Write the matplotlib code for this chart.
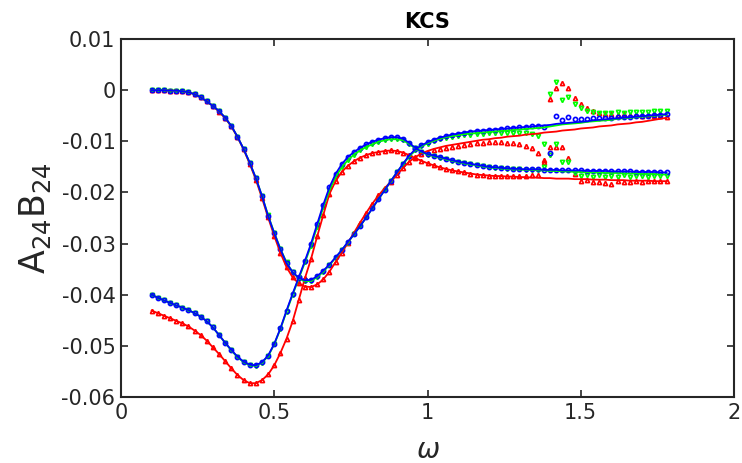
import numpy as np
import matplotlib
matplotlib.use("Agg")
import matplotlib.pyplot as plt

# frequency grid
omega = np.round(np.arange(0.10, 1.7801, 0.02), 2)

# ---- A24 lines ----
A24_blue = [0.0000, 0.0000, 0.0000, -0.0001, -0.0001, -0.0002, -0.0004, -0.0008, -0.0014, -0.0022,
            -0.0031, -0.0041, -0.0054, -0.0070, -0.0091, -0.0115, -0.0142, -0.0172, -0.0207, -0.0246,
            -0.0280, -0.0311, -0.0338, -0.0356, -0.0367, -0.0372, -0.0371, -0.0364, -0.0353, -0.0341,
            -0.0327, -0.0313, -0.0297, -0.0282, -0.0266, -0.0249, -0.0231, -0.0213, -0.0196, -0.0178,
            -0.0161, -0.0144, -0.0128, -0.0116, -0.0108, -0.0102, -0.0097, -0.0093, -0.0090, -0.0087,
            -0.0085, -0.0083, -0.0081, -0.0080, -0.0079, -0.0078, -0.0077, -0.0076, -0.0075, -0.0074,
            -0.0073, -0.0072, -0.0071, -0.0070, -0.0069, -0.0068, -0.0066, -0.0065, -0.0064, -0.0063,
            -0.0062, -0.0061, -0.0059, -0.0058, -0.0057, -0.0056, -0.0055, -0.0054, -0.0053, -0.0052,
            -0.0051, -0.0050, -0.0049, -0.0048, -0.0047]
A24_green = [0.0000, 0.0000, 0.0000, -0.0001, -0.0001, -0.0002, -0.0004, -0.0008, -0.0014, -0.0022,
             -0.0031, -0.0041, -0.0054, -0.0070, -0.0091, -0.0115, -0.0142, -0.0172, -0.0207, -0.0245,
             -0.0279, -0.0310, -0.0337, -0.0356, -0.0368, -0.0374, -0.0373, -0.0366, -0.0355, -0.0342,
             -0.0328, -0.0313, -0.0298, -0.0282, -0.0266, -0.0249, -0.0231, -0.0213, -0.0196, -0.0178,
             -0.0161, -0.0145, -0.0130, -0.0118, -0.0110, -0.0104, -0.0099, -0.0095, -0.0092, -0.0090,
             -0.0088, -0.0086, -0.0085, -0.0084, -0.0083, -0.0082, -0.0081, -0.0080, -0.0079, -0.0078,
             -0.0077, -0.0076, -0.0075, -0.0074, -0.0073, -0.0071, -0.0069, -0.0067, -0.0066, -0.0065,
             -0.0064, -0.0062, -0.0061, -0.0060, -0.0059, -0.0058, -0.0056, -0.0055, -0.0054, -0.0053,
             -0.0052, -0.0051, -0.0050, -0.0049, -0.0048]
A24_red = [0.0000, 0.0000, 0.0000, -0.0001, -0.0001, -0.0002, -0.0004, -0.0008, -0.0014, -0.0022,
           -0.0031, -0.0042, -0.0055, -0.0071, -0.0092, -0.0116, -0.0144, -0.0175, -0.0211, -0.0249,
           -0.0285, -0.0318, -0.0346, -0.0366, -0.0378, -0.0384, -0.0385, -0.0380, -0.0370, -0.0355,
           -0.0336, -0.0318, -0.0299, -0.0279, -0.0259, -0.0240, -0.0222, -0.0206, -0.0192, -0.0179,
           -0.0166, -0.0152, -0.0140, -0.0131, -0.0124, -0.0119, -0.0115, -0.0112, -0.0109, -0.0107,
           -0.0105, -0.0103, -0.0101, -0.0099, -0.0097, -0.0096, -0.0094, -0.0093, -0.0091, -0.0090,
           -0.0089, -0.0087, -0.0086, -0.0085, -0.0083, -0.0082, -0.0081, -0.0079, -0.0078, -0.0077,
           -0.0075, -0.0074, -0.0073, -0.0071, -0.0070, -0.0069, -0.0067, -0.0066, -0.0065, -0.0063,
           -0.0062, -0.0060, -0.0058, -0.0056, -0.0054]

# ---- B24 lines ----
B24_blue = [-0.0400, -0.0406, -0.0411, -0.0416, -0.0421, -0.0425, -0.0430, -0.0436, -0.0443, -0.0452,
            -0.0464, -0.0479, -0.0494, -0.0508, -0.0521, -0.0531, -0.0537, -0.0538, -0.0532, -0.0519,
            -0.0496, -0.0466, -0.0431, -0.0398, -0.0366, -0.0334, -0.0300, -0.0262, -0.0224, -0.0190,
            -0.0164, -0.0145, -0.0131, -0.0121, -0.0113, -0.0106, -0.0101, -0.0097, -0.0094, -0.0092,
            -0.0092, -0.0095, -0.0103, -0.0113, -0.0120, -0.0125, -0.0128, -0.0131, -0.0134, -0.0137,
            -0.0140, -0.0142, -0.0144, -0.0146, -0.0148, -0.0150, -0.0151, -0.0152, -0.0153, -0.0154,
            -0.0154, -0.0155, -0.0155, -0.0155, -0.0156, -0.0156, -0.0156, -0.0157, -0.0157, -0.0157,
            -0.0157, -0.0158, -0.0158, -0.0158, -0.0158, -0.0159, -0.0159, -0.0159, -0.0159, -0.0160,
            -0.0160, -0.0160, -0.0160, -0.0161, -0.0161]
B24_green = [-0.0400, -0.0406, -0.0411, -0.0416, -0.0421, -0.0425, -0.0430, -0.0436, -0.0443, -0.0452,
             -0.0464, -0.0479, -0.0494, -0.0509, -0.0522, -0.0532, -0.0538, -0.0539, -0.0533, -0.0520,
             -0.0497, -0.0467, -0.0433, -0.0400, -0.0368, -0.0337, -0.0304, -0.0267, -0.0229, -0.0196,
             -0.0170, -0.0151, -0.0137, -0.0126, -0.0118, -0.0111, -0.0106, -0.0101, -0.0098, -0.0096,
             -0.0096, -0.0098, -0.0105, -0.0114, -0.0121, -0.0126, -0.0129, -0.0132, -0.0135, -0.0138,
             -0.0141, -0.0143, -0.0145, -0.0147, -0.0149, -0.0151, -0.0152, -0.0153, -0.0154, -0.0155,
             -0.0155, -0.0156, -0.0156, -0.0157, -0.0157, -0.0158, -0.0158, -0.0159, -0.0159, -0.0160,
             -0.0160, -0.0161, -0.0161, -0.0161, -0.0162, -0.0162, -0.0162, -0.0163, -0.0163, -0.0163,
             -0.0164, -0.0164, -0.0164, -0.0165, -0.0165]
B24_red = [-0.0431, -0.0436, -0.0441, -0.0446, -0.0451, -0.0456, -0.0462, -0.0470, -0.0479, -0.0490,
           -0.0503, -0.0516, -0.0530, -0.0544, -0.0557, -0.0567, -0.0573, -0.0573, -0.0567, -0.0556,
           -0.0538, -0.0514, -0.0486, -0.0452, -0.0410, -0.0368, -0.0330, -0.0286, -0.0244, -0.0203,
           -0.0178, -0.0160, -0.0148, -0.0139, -0.0132, -0.0127, -0.0123, -0.0121, -0.0119, -0.0118,
           -0.0119, -0.0122, -0.0127, -0.0133, -0.0138, -0.0143, -0.0147, -0.0151, -0.0154, -0.0157,
           -0.0159, -0.0161, -0.0163, -0.0165, -0.0166, -0.0167, -0.0168, -0.0168, -0.0169, -0.0169,
           -0.0170, -0.0170, -0.0171, -0.0171, -0.0172, -0.0172, -0.0173, -0.0173, -0.0173, -0.0174,
           -0.0174, -0.0174, -0.0175, -0.0175, -0.0175, -0.0176, -0.0176, -0.0176, -0.0177, -0.0177,
           -0.0177, -0.0177, -0.0178, -0.0178, -0.0178]

# ---- marker data (same as lines below omega = 1.00, own values from omega = 1.00 on) ----
A24_blue_pts_hi = [-0.0102, -0.0097, -0.0093, -0.0090, -0.0087, -0.0085, -0.0083, -0.0081, -0.0080, -0.0079,
                   -0.0078, -0.0077, -0.0076, -0.0075, -0.0074, -0.0073, -0.0072, -0.0071, -0.0070, -0.0072,
                   -0.0123, -0.0050, -0.0059, -0.0052, -0.0056, -0.0056, -0.0056, -0.0055, -0.0055, -0.0054,
                   -0.0054, -0.0053, -0.0052, -0.0052, -0.0051, -0.0050, -0.0050, -0.0049, -0.0048, -0.0047]
A24_green_pts_hi = [-0.0105, -0.0100, -0.0096, -0.0093, -0.0091, -0.0089, -0.0088, -0.0087, -0.0086, -0.0085,
                    -0.0084, -0.0084, -0.0083, -0.0083, -0.0083, -0.0083, -0.0084, -0.0086, -0.0090, -0.0106,
                    -0.0008, 0.0015, -0.0020, -0.0013, -0.0028, -0.0034, -0.0040, -0.0043, -0.0044, -0.0045,
                    -0.0044, -0.0043, -0.0044, -0.0043, -0.0042, -0.0043, -0.0042, -0.0041, -0.0040, -0.0040]
A24_red_pts_hi = [-0.0122, -0.0118, -0.0115, -0.0113, -0.0111, -0.0109, -0.0107, -0.0105, -0.0104, -0.0103,
                  -0.0102, -0.0102, -0.0102, -0.0103, -0.0104, -0.0106, -0.0109, -0.0114, -0.0122, -0.0136,
                  -0.0018, 0.0005, 0.0013, 0.0004, -0.0016, -0.0028, -0.0035, -0.0040, -0.0044, -0.0046,
                  -0.0047, -0.0048, -0.0047, -0.0048, -0.0049, -0.0050, -0.0049, -0.0050, -0.0051, -0.0052]
B24_blue_pts_hi = [-0.0125, -0.0128, -0.0131, -0.0134, -0.0137, -0.0140, -0.0142, -0.0144, -0.0146, -0.0148,
                   -0.0150, -0.0151, -0.0152, -0.0153, -0.0154, -0.0154, -0.0155, -0.0155, -0.0155, -0.0156,
                   -0.0156, -0.0156, -0.0157, -0.0157, -0.0157, -0.0157, -0.0158, -0.0158, -0.0158, -0.0158,
                   -0.0159, -0.0159, -0.0159, -0.0159, -0.0160, -0.0160, -0.0160, -0.0160, -0.0161, -0.0161]
B24_green_pts_hi = [-0.0126, -0.0129, -0.0132, -0.0135, -0.0138, -0.0141, -0.0143, -0.0145, -0.0147, -0.0149,
                    -0.0151, -0.0152, -0.0153, -0.0154, -0.0155, -0.0155, -0.0156, -0.0156, -0.0156, -0.0150,
                    -0.0127, -0.0106, -0.0141, -0.0141, -0.0162, -0.0168, -0.0165, -0.0170, -0.0166, -0.0169,
                    -0.0167, -0.0170, -0.0166, -0.0169, -0.0168, -0.0167, -0.0169, -0.0167, -0.0168, -0.0167]
B24_red_pts_hi = [-0.0143, -0.0147, -0.0151, -0.0154, -0.0157, -0.0159, -0.0161, -0.0163, -0.0165, -0.0166,
                  -0.0167, -0.0168, -0.0168, -0.0168, -0.0168, -0.0168, -0.0167, -0.0166, -0.0165, -0.0140,
                  -0.0111, -0.0111, -0.0111, -0.0132, -0.0164, -0.0178, -0.0176, -0.0180, -0.0179, -0.0181,
                  -0.0183, -0.0178, -0.0180, -0.0179, -0.0178, -0.0179, -0.0177, -0.0178, -0.0178, -0.0178]

HI = 45  # index of omega = 1.00


def pts(line, hi):
    return np.concatenate([np.asarray(line[:HI]), np.asarray(hi)])


RED, GREEN, BLUE = "#ff0000", "#00ff00", "#0000ff"

fig = plt.figure(figsize=(7.42, 4.63), dpi=100)
ax = fig.add_axes([121 / 742, 1 - 397 / 463, 613 / 742, 358 / 463])

series = [
    (A24_red, A24_red_pts_hi, RED, "^"),
    (B24_red, B24_red_pts_hi, RED, "^"),
    (A24_green, A24_green_pts_hi, GREEN, "v"),
    (B24_green, B24_green_pts_hi, GREEN, "v"),
    (A24_blue, A24_blue_pts_hi, BLUE, "o"),
    (B24_blue, B24_blue_pts_hi, BLUE, "o"),
]
for line, hi, col, mk in series:
    ax.plot(omega, pts(line, hi), linestyle="none", marker=mk, markersize=3.0,
            markerfacecolor="none", markeredgecolor=col, markeredgewidth=1.2, zorder=2)
for line, hi, col, mk in series:
    ax.plot(omega, line, color=col, linewidth=1.3, zorder=3)

ax.set_xlim(0, 2)
ax.set_ylim(-0.06, 0.01)
ax.set_xticks([0, 0.5, 1, 1.5, 2])
ax.set_xticklabels(["0", "0.5", "1", "1.5", "2"])
yt = [-0.06, -0.05, -0.04, -0.03, -0.02, -0.01, 0, 0.01]
ax.set_yticks(yt)
ax.set_yticklabels(["-0.06", "-0.05", "-0.04", "-0.03", "-0.02", "-0.01", "0", "0.01"])
ax.tick_params(direction="in", top=True, right=True, length=5, width=1.2,
               labelsize=15, colors="#262626")
ax.tick_params(axis="x", pad=4)
ax.tick_params(axis="y", pad=4)
for s in ax.spines.values():
    s.set_linewidth(1.5)
    s.set_color("#262626")

ax.set_title("KCS", fontsize=15, fontweight="bold", pad=8)
ax.set_xlabel(r"$\omega$", fontsize=20, color="#262626", labelpad=10)
ax.set_ylabel(r"A$_{24}$B$_{24}$", fontsize=25, color="#262626", labelpad=6)

fig.savefig("out.png", dpi=100)
